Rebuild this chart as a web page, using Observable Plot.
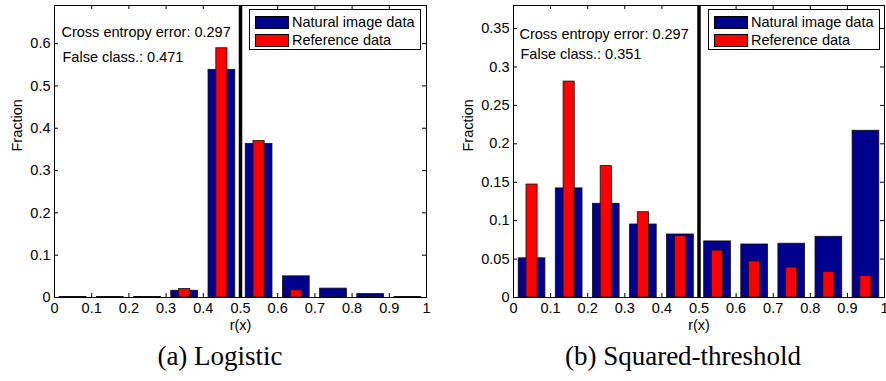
<!DOCTYPE html>
<html>
<head>
<meta charset="utf-8">
<script src="https://cdn.jsdelivr.net/npm/d3@7"></script>
<script src="https://cdn.jsdelivr.net/npm/@observablehq/plot@0.6"></script>
<style>
  html, body { margin: 0; padding: 0; background: #fff; }
  #wrap { position: relative; width: 886px; height: 381px; overflow: hidden; font-family: "Liberation Sans", Arial, sans-serif; }
  .panel { position: absolute; top: 0; }
  .panel svg { overflow: visible; }
  .legend { position: absolute; background: #fff; border: 1px solid #000; box-sizing: border-box; font-size: 14.5px; color: #000; padding: 3px 0 0 5px; }
  .legend .row { display: flex; align-items: center; height: 18px; white-space: nowrap; }
  .legend .sw { width: 34px; height: 13px; border: 1px solid #000; box-sizing: border-box; margin-right: 3px; }
  .caption { position: absolute; font-family: "Liberation Serif", "Times New Roman", serif; font-size: 27px; color: #000; white-space: nowrap; transform: translate(-50%, -50%); }
</style>
</head>
<body>
<div id="wrap"></div>
<script>
// ---------- data ----------
const binCenters = [0.05, 0.15, 0.25, 0.35, 0.45, 0.55, 0.65, 0.75, 0.85, 0.95];
const logisticNatural   = [0.001, 0.001, 0.001, 0.016, 0.538, 0.363, 0.050, 0.021, 0.008, 0.001];
const logisticReference = [0.001, 0.001, 0.001, 0.020, 0.589, 0.370, 0.017, 0.001, 0.001, 0.001];
const squaredNatural    = [0.051, 0.142, 0.122, 0.095, 0.082, 0.073, 0.069, 0.070, 0.079, 0.217];
const squaredReference  = [0.147, 0.281, 0.171, 0.111, 0.080, 0.061, 0.047, 0.039, 0.033, 0.028];
const thresholds = [0.5];
const xTicks = [0, 0.1, 0.2, 0.3, 0.4, 0.5, 0.6, 0.7, 0.8, 0.9, 1];
const yTicksLogistic = [0, 0.1, 0.2, 0.3, 0.4, 0.5, 0.6];
const yTicksSquared = [0, 0.05, 0.1, 0.15, 0.2, 0.25, 0.3, 0.35];
const yMaxes = [0.69, 0.38];
const seriesNames = ["Natural image data", "Reference data"];
const panelCaptions = ["(a) Logistic", "(b) Squared-threshold"];
const crossEntropy = [0.297, 0.297];
const falseClass = [0.471, 0.351];
const xLabel = "r(x)";
const yLabel = "Fraction";

// ---------- styles ----------
const BLUE = "#00008f", RED = "#ff0000";
const W_NAT = 0.072, W_REF = 0.03;
const FONT = "Liberation Sans, Arial, sans-serif";
const fmt = d => String(+(+d).toFixed(2));

function panel({natural, reference, yTicks, yMax, ce, fc, marginLeft, marginRight, yLabelDx, textDx, textDy1, textDy2}) {
  const W = 443, H = 340, mt = 5, mb = 43;
  const ph = H - mt - mb, pw = W - marginLeft - marginRight, tk = 4;
  const rows = binCenters.map((c, i) => ({c, n: natural[i], r: reference[i]}));
  return Plot.plot({
    width: W, height: H, marginLeft, marginRight, marginTop: mt, marginBottom: mb,
    style: {fontFamily: FONT, fontSize: "14.5px", color: "#000", background: "transparent", overflow: "visible"},
    x: {domain: [0, 1], ticks: xTicks, tickFormat: fmt, tickSize: 0, tickPadding: 5, label: null},
    y: {domain: [0, yMax], ticks: yTicks, tickFormat: fmt, tickSize: 0, tickPadding: 4, label: null},
    marks: [
      Plot.rect(rows, {x1: d => d.c - W_NAT / 2, x2: d => d.c + W_NAT / 2, y1: () => 0, y2: "n", fill: BLUE, stroke: "#111", strokeWidth: 0.8}),
      Plot.rect(rows, {x1: d => d.c - W_REF / 2, x2: d => d.c + W_REF / 2, y1: () => 0, y2: "r", fill: RED, stroke: "#111", strokeWidth: 0.8}),
      Plot.ruleX(thresholds, {x: d => d, stroke: "#000", strokeWidth: 3.5}),
      Plot.ruleX(xTicks, {x: d => d, insetTop: ph - tk, stroke: "#000"}),
      Plot.ruleX(xTicks, {x: d => d, insetBottom: ph - tk, stroke: "#000"}),
      Plot.ruleY(yTicks, {y: d => d, insetRight: pw - tk, stroke: "#000"}),
      Plot.ruleY(yTicks, {y: d => d, insetLeft: pw - tk, stroke: "#000"}),
      Plot.frame({stroke: "#000", strokeWidth: 1}),
      Plot.text([`Cross entropy error: ${ce}`], {frameAnchor: "top-left", dx: textDx, dy: textDy1, textAnchor: "start", lineAnchor: "middle", fontSize: 14.5, fill: "#000"}),
      Plot.text([`False class.: ${fc}`], {frameAnchor: "top-left", dx: textDx + 1, dy: textDy2, textAnchor: "start", lineAnchor: "middle", fontSize: 14.5, fill: "#000"}),
      Plot.text([xLabel], {frameAnchor: "bottom", dy: 28, lineAnchor: "middle", fontSize: 14.5, fill: "#000"}),
      Plot.text([yLabel], {frameAnchor: "left", dx: yLabelDx, rotate: -90, lineAnchor: "middle", fontSize: 14.5, fill: "#000"})
    ]
  });
}

const wrap = document.getElementById("wrap");
const configs = [
  {natural: logisticNatural, reference: logisticReference, yTicks: yTicksLogistic, yMax: yMaxes[0], ce: crossEntropy[0], fc: falseClass[0],
   marginLeft: 54, marginRight: 17, yLabelDx: -37, textDx: 7, textDy1: 27, textDy2: 52, left: 0,
   legend: {left: 249, top: 9, width: 172, height: 41}, cap: {x: 220, y: 356}},
  {natural: squaredNatural, reference: squaredReference, yTicks: yTicksSquared, yMax: yMaxes[1], ce: crossEntropy[1], fc: falseClass[1],
   marginLeft: 70, marginRight: 2, yLabelDx: -45, textDx: 6, textDy1: 29, textDy2: 49, left: 443,
   legend: {left: 708, top: 9, width: 172, height: 41}, cap: {x: 683, y: 356}}
];

configs.forEach((cfg, i) => {
  const div = document.createElement("div");
  div.className = "panel";
  div.style.left = cfg.left + "px";
  div.appendChild(panel(cfg));
  wrap.appendChild(div);

  const lg = document.createElement("div");
  lg.className = "legend";
  Object.assign(lg.style, {left: cfg.legend.left + "px", top: cfg.legend.top + "px", width: cfg.legend.width + "px", height: cfg.legend.height + "px"});
  [BLUE, RED].forEach((col, k) => {
    const row = document.createElement("div");
    row.className = "row";
    const sw = document.createElement("div");
    sw.className = "sw";
    sw.style.background = col;
    const tx = document.createElement("span");
    tx.textContent = seriesNames[k];
    row.appendChild(sw); row.appendChild(tx);
    lg.appendChild(row);
  });
  wrap.appendChild(lg);

  const cap = document.createElement("div");
  cap.className = "caption";
  cap.style.left = cfg.cap.x + "px";
  cap.style.top = cfg.cap.y + "px";
  cap.textContent = panelCaptions[i];
  wrap.appendChild(cap);
});
</script>
</body>
</html>
